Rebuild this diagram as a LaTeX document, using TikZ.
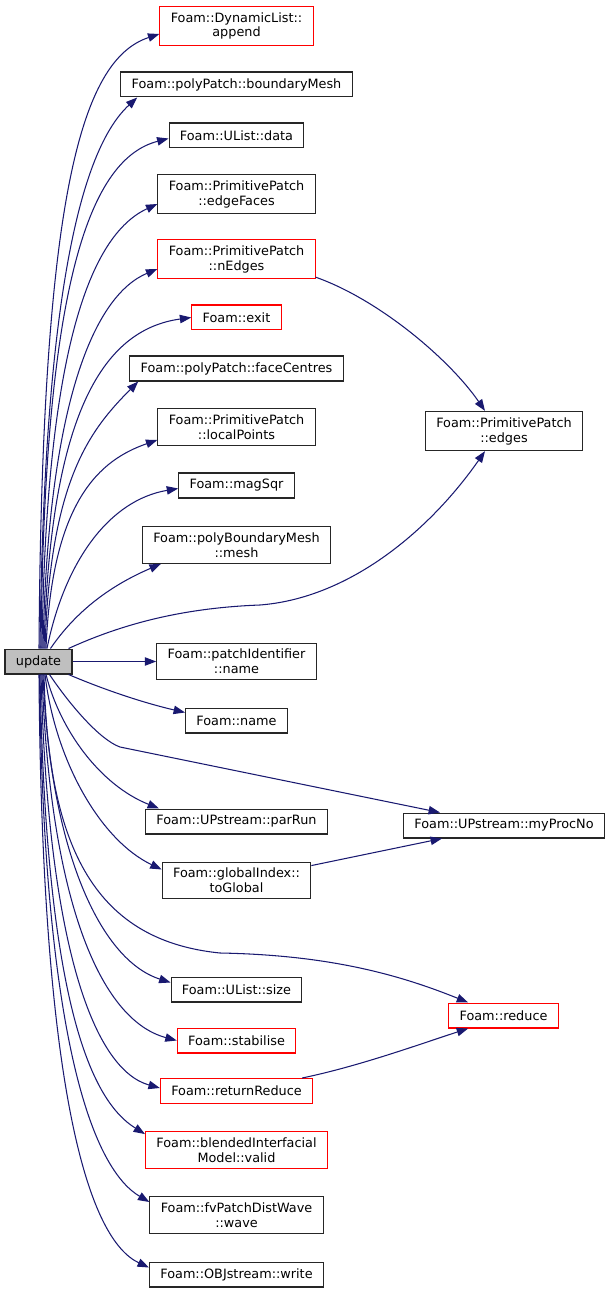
\documentclass[tikz,border=0pt]{standalone}
\usepackage{fontspec}
\setmainfont{DejaVu Sans}
\usetikzlibrary{calc,arrows.meta}
\definecolor{edgeblue}{HTML}{191970}
\definecolor{boxred}{HTML}{FF0000}
\definecolor{boxgrey}{HTML}{BFBFBF}
\tikzset{
	fn/.style={draw=black!85, fill=white, line width=0.6pt, font=\fontsize{7.3pt}{8.5pt}\selectfont,
		align=center, inner xsep=6.2pt, inner ysep=3.4pt, minimum height=14.2pt},
	fnred/.style={fn, draw=boxred},
	fnmain/.style={fn, fill=boxgrey},
	call/.style={draw=edgeblue, line width=0.6pt, -{Triangle[length=6.5pt,width=4.8pt]}, color=edgeblue},
}

\begin{document}
\begin{tikzpicture}[x=0.02cm, y=-0.02cm]
			%%%%% START %%%%%
			\useasboundingbox (0, 0) rectangle (612, 1293);
			
			\node[fnmain] (update) at (38.5, 661.5) {update};
			
			\node[fnred] (append) at (236.5, 26) {Foam::DynamicList::\\append};
			\node[fn] (boundaryMesh) at (236.5, 84.5) {Foam::polyPatch::boundaryMesh};
			\node[fn] (data) at (236.5, 135.5) {Foam::UList::data};
			\node[fn] (edgeFaces) at (236.5, 194) {Foam::PrimitivePatch\\::edgeFaces};
			\node[fnred] (nEdges) at (236.5, 259) {Foam::PrimitivePatch\\::nEdges};
			\node[fnred] (exit) at (236.5, 317.5) {Foam::exit};
			\node[fn] (faceCentres) at (236.5, 368.5) {Foam::polyPatch::faceCentres};
			\node[fn] (localPoints) at (236.5, 427) {Foam::PrimitivePatch\\::localPoints};
			\node[fn] (magSqr) at (236.5, 485.5) {Foam::magSqr};
			\node[fn] (mesh) at (236.5, 545) {Foam::polyBoundaryMesh\\::mesh};
			\node[fn] (pname) at (236.5, 661.5) {Foam::patchIdentifier\\::name};
			\node[fn] (fname) at (236.5, 720.5) {Foam::name};
			\node[fn] (parRun) at (236.5, 821.5) {Foam::UPstream::parRun};
			\node[fn] (toGlobal) at (236.5, 880.5) {Foam::globalIndex::\\toGlobal};
			\node[fn] (size) at (236.5, 989.5) {Foam::UList::size};
			\node[fnred] (stabilise) at (236.5, 1040.5) {Foam::stabilise};
			\node[fnred] (returnReduce) at (236.5, 1091) {Foam::returnReduce};
			\node[fnred] (valid) at (236.5, 1150) {Foam::blendedInterfacial\\Model::valid};
			\node[fn] (wave) at (236.5, 1215) {Foam::fvPatchDistWave\\::wave};
			\node[fn] (write) at (236.5, 1274.5) {Foam::OBJstream::write};
			
			\node[fn] (edges) at (504, 431) {Foam::PrimitivePatch\\::edges};
			\node[fn] (myProcNo) at (504, 825.5) {Foam::UPstream::myProcNo};
			\node[fnred] (reduce) at (503.5, 1015.5) {Foam::reduce};
			
			% calls above update
			\draw[call] ($(update.north)+(0.5,0)$) .. controls (42, 200) and (80, 60) .. ($(append.west)+(0,8)$);
			\draw[call] ($(update.north)+(1.5,0)$) .. controls (44, 300) and (80, 150) .. ($(boundaryMesh.south west)+(17,0)$);
			\draw[call] ($(update.north)+(2.5,0)$) .. controls (44, 300) and (85, 160) .. ($(data.west)+(0,3)$);
			\draw[call] ($(update.north)+(3.5,0)$) .. controls (46, 350) and (90, 235) .. ($(edgeFaces.west)+(0,10)$);
			\draw[call] ($(update.north)+(4.5,0)$) .. controls (48, 400) and (95, 295) .. ($(nEdges.west)+(0,10)$);
			\draw[call] ($(update.north)+(5.5,0)$) .. controls (50, 420) and (100, 330) .. (exit.west);
			\draw[call] ($(update.north)+(6.5,0)$) .. controls (50, 480) and (90, 430) .. ($(faceCentres.south west)+(9,0)$);
			\draw[call] ($(update.north)+(7.5,0)$) .. controls (52, 500) and (100, 460) .. ($(localPoints.west)+(0,13)$);
			\draw[call] ($(update.north)+(8.5,0)$) .. controls (65, 560) and (110, 500) .. ($(magSqr.west)+(0,3)$);
			\draw[call] ($(update.north)+(12,0)$) .. controls (70, 620) and (100, 590) .. ($(mesh.south west)+(19,0)$);
			\draw[call] ($(update.north east)+(-4,0)$) .. controls (120, 625) and (180, 608) .. (260, 605)
				.. controls (350, 598) and (430, 530) .. ($(edges.south)+(-19,0)$);
			
			\draw[call] (update.east) -- (pname.west);
			
			% calls below update
			\draw[call] ($(update.south east)+(-4,0)$) .. controls (100, 688) and (140, 702) .. ($(fname.west)+(0,-8)$);
			\draw[call] ($(update.south)+(11,0)$) .. controls (70, 705) and (100, 740) .. (120, 747) -- ($(myProcNo.north west)+(37,0)$);
			\draw[call] ($(update.south)+(7.5,0)$) .. controls (60, 730) and (100, 785) .. ($(parRun.north west)+(14,0)$);
			\draw[call] ($(update.south)+(6.5,0)$) .. controls (55, 760) and (100, 840) .. ($(toGlobal.west)+(0,-11)$);
			\draw[call] ($(update.south)+(5.5,0)$) .. controls (48, 840) and (90, 940) .. (220, 953)
				.. controls (330, 955) and (400, 975) .. ($(reduce.north west)+(20,0)$);
			\draw[call] ($(update.south)+(4.5,0)$) .. controls (50, 850) and (100, 960) .. ($(size.west)+(0,-7)$);
			\draw[call] ($(update.south)+(3.5,0)$) .. controls (50, 900) and (100, 1020) .. (stabilise.west);
			\draw[call] ($(update.south)+(2.5,0)$) .. controls (48, 950) and (95, 1070) .. ($(returnReduce.west)+(0,-3)$);
			\draw[call] ($(update.south)+(1.5,0)$) .. controls (46, 1000) and (90, 1100) .. ($(valid.north west)+(0,3)$);
			\draw[call] ($(update.south)+(1,0)$) .. controls (44, 1050) and (95, 1170) .. ($(wave.west)+(0,-13)$);
			\draw[call] ($(update.south)+(0.5,0)$) .. controls (42, 1100) and (90, 1240) .. ($(write.west)+(0,-7)$);
			
			% calls between the others
			\draw[call] ($(nEdges.south east)+(0,-2)$) .. controls (380, 300) and (450, 360) .. ($(edges.north)+(-19,0)$);
			\draw[call] ($(toGlobal.north east)+(0,4)$) -- ($(myProcNo.south west)+(39,0)$);
			\draw[call] ($(returnReduce.north east)+(-11,0)$) .. controls (360, 1066) and (420, 1044) .. ($(reduce.south west)+(20,0)$);
			
			%%%%% END %%%%%
\end{tikzpicture}
\end{document}
